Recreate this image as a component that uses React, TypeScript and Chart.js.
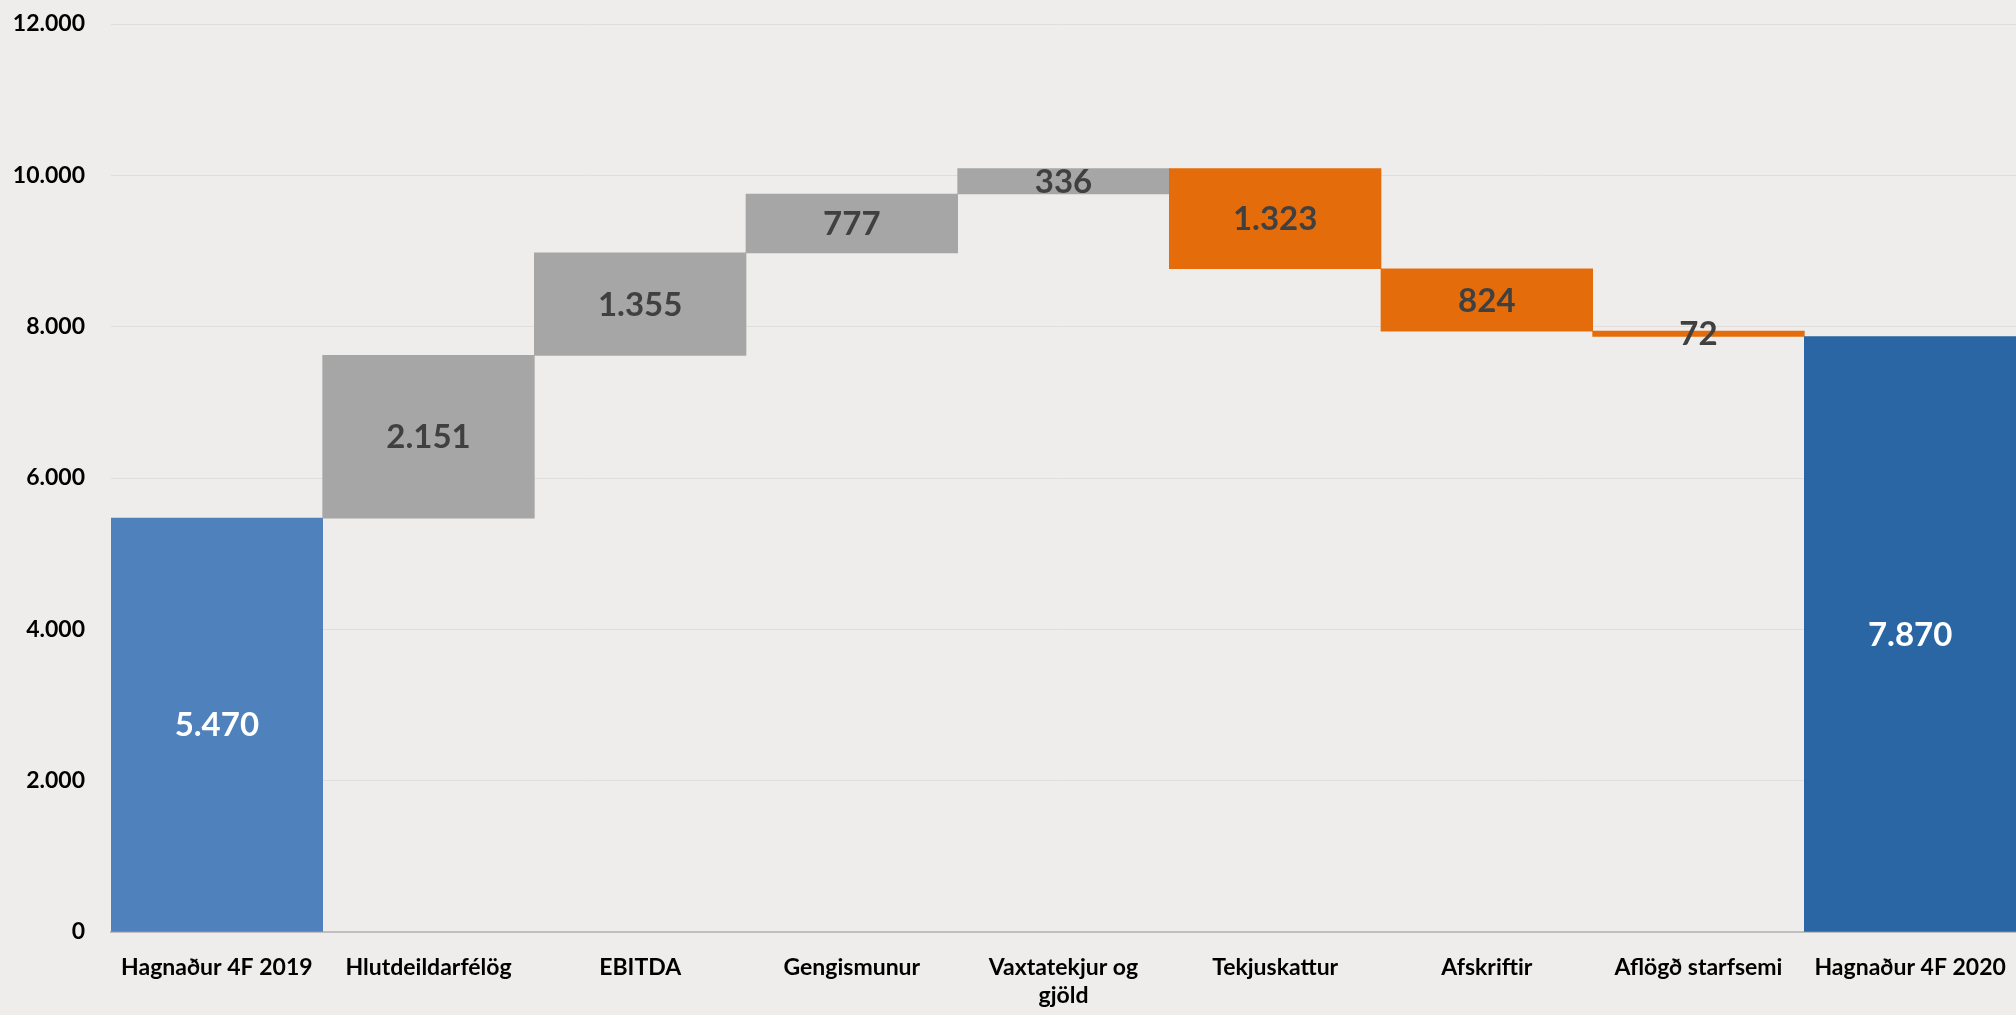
import React, { useEffect, useRef } from "react";
import { Chart, registerables } from "chart.js";

Chart.register(...registerables);

const categories: (string | string[])[] = [
  "Hagnaður 4F 2019",
  "Hlutdeildarfélög",
  "EBITDA",
  "Gengismunur",
  ["Vaxtatekjur og", "gjöld"],
  "Tekjuskattur",
  "Afskriftir",
  "Aflögð starfsemi",
  "Hagnaður 4F 2020",
];
const barLows = [0, 5470, 7621, 8976, 9753, 8766, 7942, 7870, 0];
const barHighs = [5470, 7621, 8976, 9753, 10089, 10089, 8766, 7942, 7870];
const valueLabels = ["5.470", "2.151", "1.355", "777", "336", "1.323", "824", "72", "7.870"];
const barColors = ["#4F81BD", "#A6A6A6", "#A6A6A6", "#A6A6A6", "#A6A6A6", "#E46C0A", "#E46C0A", "#E46C0A", "#2966A3"];
const labelColors = ["#FFFFFF", "#404040", "#404040", "#404040", "#404040", "#404040", "#404040", "#404040", "#FFFFFF"];
const yTickValues = [0, 2000, 4000, 6000, 8000, 10000, 12000];

const fmt = (v: number) => v.toString().replace(/\B(?=(\d{3})+(?!\d))/g, ".");

const labelPlugin = {
  id: "valueLabels",
  afterDatasetsDraw(chart: any) {
    const meta = chart.getDatasetMeta(0);
    const ctx = chart.ctx;
    ctx.save();
    ctx.font = "bold 33px Lato";
    ctx.textAlign = "center";
    ctx.textBaseline = "middle";
    meta.data.forEach((el: any, i: number) => {
      const cy = (el.y + el.base) / 2;
      ctx.fillStyle = labelColors[i];
      ctx.fillText(valueLabels[i], el.x, cy + 1);
    });
    ctx.restore();
  },
};

export default function App() {
  const ref = useRef<HTMLCanvasElement | null>(null);
  useEffect(() => {
    if (!ref.current) return;
    const chart = new Chart(ref.current, {
      type: "bar",
      data: {
        labels: categories,
        datasets: [
          {
            data: barLows.map((lo, i) => [lo, barHighs[i]]) as any,
            backgroundColor: barColors,
            borderWidth: 0,
            barPercentage: 1,
            categoryPercentage: 1,
          },
        ],
      },
      options: {
        animation: false,
        responsive: true,
        maintainAspectRatio: false,
        layout: { padding: { top: 24, right: 0, bottom: 0, left: 0 } },
        plugins: {
          legend: { display: false },
          tooltip: { enabled: false },
        },
        scales: {
          x: {
            grid: { display: false, drawTicks: false },
            border: { display: true, color: "#BFBFBF", width: 2 },
            ticks: {
              color: "#000000",
              font: { family: "Lato", weight: "bold", size: 23 },
              padding: 22,
              maxRotation: 0,
              autoSkip: false,
            },
            afterFit: (scale: any) => {
              scale.height = 83;
              scale.paddingLeft = 0;
              scale.paddingRight = 0;
            },
          },
          y: {
            min: 0,
            max: 12000,
            grid: { color: "#DFDEDC", lineWidth: 1, drawTicks: false },
            border: { display: false },
            afterBuildTicks: (scale: any) => {
              scale.ticks = yTickValues.map((v) => ({ value: v }));
            },
            ticks: {
              color: "#000000",
              font: { family: "Lato", weight: "bold", size: 23 },
              padding: 26,
              callback: (v: any) => fmt(Number(v)),
            },
            afterFit: (scale: any) => {
              scale.width = 111;
              scale.paddingTop = 0;
              scale.paddingBottom = 0;
            },
          },
        },
      },
      plugins: [labelPlugin],
    });
    return () => chart.destroy();
  }, []);
  return (
    <div
      style={{
        position: "fixed",
        left: 0,
        top: 0,
        width: 2016,
        height: 1015,
        background: "#EEEDEB",
      }}
    >
      <canvas ref={ref} />
    </div>
  );
}
